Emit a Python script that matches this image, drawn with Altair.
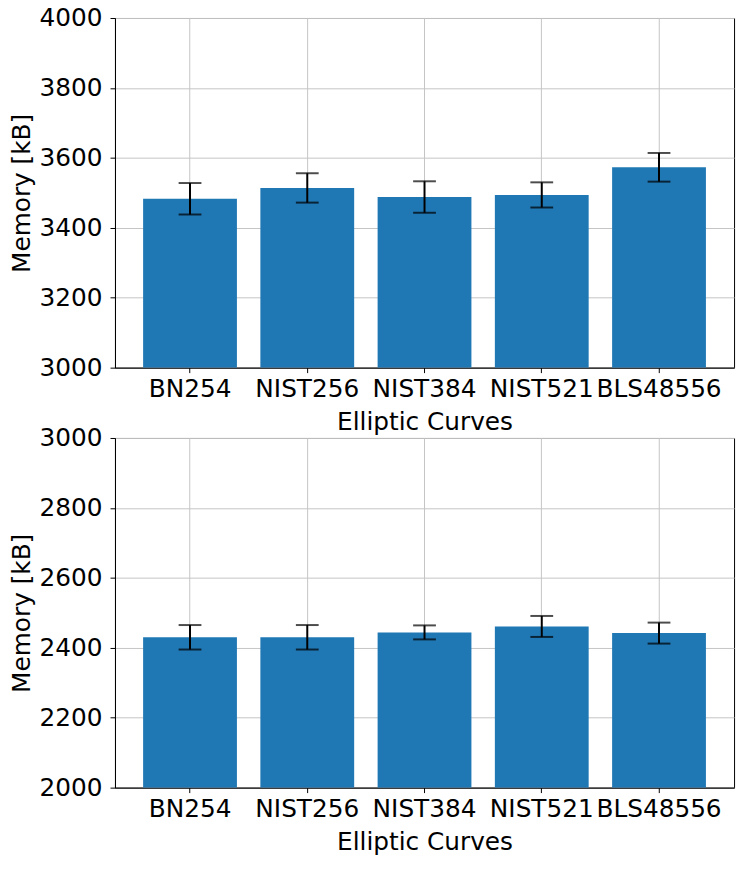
import altair as alt
import pandas as pd

curves = ["BN254", "NIST256", "NIST384", "NIST521", "BLS48556"]
mem_top = [3483, 3514, 3488, 3494, 3573]
err_top = [45, 42, 45, 36, 41]
mem_bottom = [2430, 2430, 2444, 2461, 2442]
err_bottom = [35, 35, 20, 30, 30]
y_top_ticks = [3000, 3200, 3400, 3600, 3800, 4000]
y_bottom_ticks = [2000, 2200, 2400, 2600, 2800, 3000]

FONT = "DejaVu Sans"
FS = 25
W, H = 625, 353


def panel(mem, err, ticks):
    df = pd.DataFrame({"curve": curves, "mem": mem, "err": err})
    base = alt.Chart(df).transform_calculate(
        lo="datum.mem - datum.err", hi="datum.mem + datum.err"
    )
    x = alt.X(
        "curve:N",
        sort=curves,
        scale=alt.Scale(paddingInner=0.2, paddingOuter=0.24),
        axis=alt.Axis(
            title="Elliptic Curves",
            labelAngle=0,
            bandPosition=0.5,
            grid=True,
            tickSize=5,
            labelPadding=4,
            titlePadding=8,
            labelOverlap=False,
        ),
    )
    y_scale = alt.Scale(domain=[ticks[0], ticks[-1]], nice=False, zero=False)
    y = alt.Y(
        "mem:Q",
        scale=y_scale,
        axis=alt.Axis(
            title="Memory [kB]",
            values=ticks,
            format="d",
            grid=True,
            tickSize=5,
            labelPadding=8,
            titlePadding=5,
        ),
    )
    bars = base.mark_bar(color="#1f77b4", clip=True).encode(
        x=x, y=y, y2=alt.Y2(datum=ticks[0])
    )
    rule = base.mark_rule(color="black", strokeWidth=2).encode(
        x=alt.X("curve:N", sort=curves),
        y=alt.Y("lo:Q", scale=y_scale),
        y2="hi:Q",
    )
    cap_lo = base.mark_tick(color="black", thickness=2, size=23).encode(
        x=alt.X("curve:N", sort=curves), y=alt.Y("lo:Q", scale=y_scale)
    )
    cap_hi = base.mark_tick(color="black", thickness=2, size=23).encode(
        x=alt.X("curve:N", sort=curves), y=alt.Y("hi:Q", scale=y_scale)
    )
    return alt.layer(bars, rule, cap_lo, cap_hi).properties(width=W, height=H)


top = panel(mem_top, err_top, y_top_ticks)
bottom = panel(mem_bottom, err_bottom, y_bottom_ticks)

chart = (
    alt.vconcat(top, bottom, spacing=71, bounds="flush")
    .properties(padding={"left": 0, "top": -7, "right": 5, "bottom": 5})
    .configure_view(stroke="black", strokeWidth=1)
    .configure_axis(
        labelFont=FONT,
        titleFont=FONT,
        labelFontSize=FS,
        titleFontSize=FS,
        titleFontWeight="normal",
        labelColor="black",
        titleColor="black",
        domainColor="black",
        tickColor="black",
        gridColor="#c4c4c4",
        gridWidth=1,
        domainWidth=1,
        tickWidth=1,
    )
)

chart.save("out.html", embed_options={"renderer": "svg", "actions": False})
